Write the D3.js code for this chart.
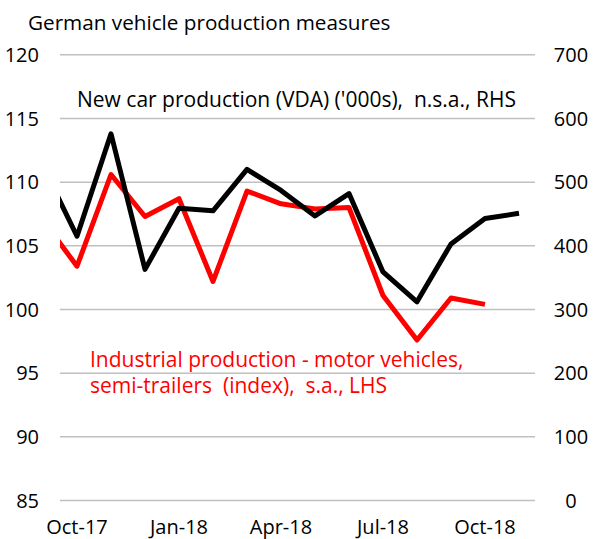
<!DOCTYPE html>
<html>
<head>
<meta charset="utf-8">
<script src="https://cdn.jsdelivr.net/npm/d3@7"></script>
<style>
    body { margin: 0; background: #fff; }
    text { font-family: "Open Sans", "Noto Sans", sans-serif; }
</style>
</head>
<body>
<div id="graph-container"></div>
<script>
// Data________________________________________________________________
const months = ['Sep-17', 'Oct-17', 'Nov-17', 'Dec-17', 'Jan-18', 'Feb-18', 'Mar-18', 'Apr-18',
    'May-18', 'Jun-18', 'Jul-18', 'Aug-18', 'Sep-18', 'Oct-18', 'Nov-18'];
const carProduction = [525, 415, 576, 363, 459, 455, 520, 487, 447, 482, 359, 312, 403, 443, 451];
const industrialProduction = [107.0, 103.4, 110.6, 107.3, 108.7, 102.2, 109.3, 108.3, 107.9, 108.0,
    101.1, 97.6, 100.9, 100.4, null];
const xTickLabels = ['Oct-17', 'Jan-18', 'Apr-18', 'Jul-18', 'Oct-18'];
const leftTicks = [85, 90, 95, 100, 105, 110, 115, 120];
const rightTicks = [0, 100, 200, 300, 400, 500, 600, 700];

// Variables___________________________________________________________
const graphWidth = 593;
const graphHeight = 539;
const plotLeft = 60;
const plotRight = 536;
const plotTop = 54.8;
const plotBottom = 500.5;

// month index: Oct-17 = 0, Sep-17 = -1 (clipped at the left edge)
const xScale = d3.scaleLinear()
    .domain([-0.5, 13.5])
    .range([plotLeft, plotRight]);
const yLeft = d3.scaleLinear()
    .domain([85, 120])
    .range([plotBottom, plotTop]);
const yRight = d3.scaleLinear()
    .domain([0, 700])
    .range([plotBottom, plotTop]);
const idx = (m) => months.indexOf(m) - 1;

const svg = d3.select('#graph-container')
    .append('svg')
    .attr('width', graphWidth)
    .attr('height', graphHeight);

svg.append('defs')
    .append('clipPath')
    .attr('id', 'plot-clip')
    .append('rect')
    .attr('x', plotLeft)
    .attr('y', 0)
    .attr('width', plotRight - plotLeft)
    .attr('height', graphHeight);

// Title_______________________________________________________________
svg.append('text')
    .attr('x', 28)
    .attr('y', 30)
    .attr('font-size', 20.7)
    .attr('fill', '#000')
    .text('German vehicle production measures');

// Gridlines + axes labels_____________________________________________
svg.append('g')
    .selectAll('line')
    .data(leftTicks)
    .enter()
    .append('line')
    .attr('x1', plotLeft)
    .attr('x2', 535)
    .attr('y1', d => yLeft(d))
    .attr('y2', d => yLeft(d))
    .attr('stroke', '#c0c0c0')
    .attr('stroke-width', 1.5);

svg.append('g')
    .selectAll('text')
    .data(leftTicks)
    .enter()
    .append('text')
    .attr('x', 39)
    .attr('y', d => yLeft(d))
    .attr('dy', '0.36em')
    .attr('text-anchor', 'end')
    .attr('font-size', 20)
    .text(d => d);

svg.append('g')
    .selectAll('text')
    .data(rightTicks)
    .enter()
    .append('text')
    .attr('x', 571)
    .attr('y', d => yRight(d))
    .attr('dy', '0.36em')
    .attr('text-anchor', 'middle')
    .attr('font-size', 20)
    .text(d => d);

svg.append('g')
    .selectAll('text')
    .data(xTickLabels)
    .enter()
    .append('text')
    .attr('x', d => xScale(idx(d)))
    .attr('y', 534)
    .attr('text-anchor', 'middle')
    .attr('font-size', 20)
    .text(d => d);

// Lines_______________________________________________________________
const plot = svg.append('g').attr('clip-path', 'url(#plot-clip)');

const carLine = d3.line()
    .x((d, i) => xScale(i - 1))
    .y(d => yRight(d));
const ipLine = d3.line()
    .defined(d => d !== null)
    .x((d, i) => xScale(i - 1))
    .y(d => yLeft(d));

plot.append('path')
    .datum(industrialProduction)
    .attr('d', ipLine)
    .attr('fill', 'none')
    .attr('stroke', '#ff0000')
    .attr('stroke-width', 5)
    .attr('stroke-linejoin', 'round');

plot.append('path')
    .datum(carProduction)
    .attr('d', carLine)
    .attr('fill', 'none')
    .attr('stroke', '#000')
    .attr('stroke-width', 5)
    .attr('stroke-linejoin', 'round');

// Annotations_________________________________________________________
svg.append('text')
    .attr('x', 77)
    .attr('y', 106.5)
    .attr('font-size', 21)
    .attr('fill', '#000')
    .attr('xml:space', 'preserve')
    .text("New car production (VDA) ('000s),  n.s.a., RHS");

const redNote = svg.append('text')
    .attr('font-size', 21)
    .attr('fill', '#ff0000')
    .attr('xml:space', 'preserve');
redNote.append('tspan')
    .attr('x', 90)
    .attr('y', 366.5)
    .text('Industrial production - motor vehicles,');
redNote.append('tspan')
    .attr('x', 90)
    .attr('y', 393)
    .text('semi-trailers  (index),  s.a., LHS');
</script>
</body>
</html>
